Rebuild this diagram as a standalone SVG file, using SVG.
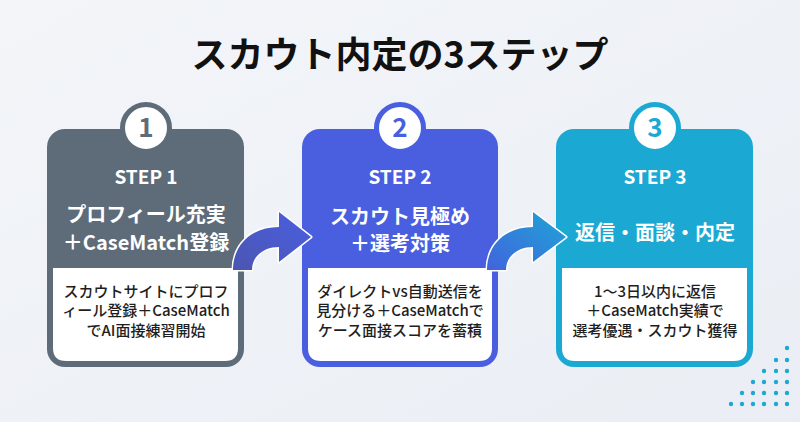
<svg xmlns="http://www.w3.org/2000/svg" width="800" height="422" viewBox="0 0 800 422">
<defs>
<linearGradient id="bg" x1="0" y1="0" x2="1" y2="1"><stop offset="0" stop-color="#f3f5f9"/><stop offset="1" stop-color="#eaeef4"/></linearGradient>
<linearGradient id="ga1" x1="0" y1="1" x2="1" y2="0"><stop offset="0" stop-color="#4b55b0"/><stop offset="1" stop-color="#4a5fe2"/></linearGradient>
<linearGradient id="ga2" x1="0" y1="1" x2="1" y2="0"><stop offset="0" stop-color="#4163dd"/><stop offset="1" stop-color="#1ea6d6"/></linearGradient>
<style>
text{font-family:"Noto Sans CJK JP","Noto Sans",sans-serif;text-anchor:middle}
.title{font-size:36px;font-weight:700;fill:#111}
.step{font-size:19px;font-weight:700;fill:#fff}
.head{font-size:20px;font-weight:700;fill:#fff}
.desc{font-size:15px;font-weight:500;fill:#1e1e1e}
.num{font-size:26px;font-weight:700}
.inner{fill:#fff}
.arrow{stroke:#fff;stroke-width:3;stroke-linejoin:round;paint-order:stroke}
.dot{fill:#1ba9d3}
</style>
</defs>
<rect width="800" height="422" fill="url(#bg)"/>
<text class="title" x="400" y="68">スカウト内定の3ステップ</text>

<g id="step1">
<rect x="47" y="129" width="197" height="238" rx="18" fill="#5e6b78"/>
<path class="inner" d="M53 268 H238 V348 Q238 361 225 361 H66 Q53 361 53 348 Z"/>
<circle cx="146" cy="128" r="23.5" fill="#fff" stroke="#5e6b78" stroke-width="5"/>
<text class="num" x="146" y="137" fill="#5e6b78">1</text>
<text class="step" x="146" y="184">STEP 1</text>
<text class="head" x="146" y="222">プロフィール充実</text>
<text class="head" x="146" y="250">＋CaseMatch登録</text>
<text class="desc" x="146" y="297">スカウトサイトにプロフ</text>
<text class="desc" x="146" y="316">ィール登録＋CaseMatch</text>
<text class="desc" x="146" y="336">でAI面接練習開始</text>
</g>

<g id="step2">
<rect x="302" y="129" width="196" height="238" rx="18" fill="#4a5ee0"/>
<path class="inner" d="M308 268 H492 V348 Q492 361 479 361 H321 Q308 361 308 348 Z"/>
<circle cx="400" cy="128" r="23.5" fill="#fff" stroke="#4a5ee0" stroke-width="5"/>
<text class="num" x="400" y="137" fill="#4a5ee0">2</text>
<text class="step" x="400" y="184">STEP 2</text>
<text class="head" x="400" y="224">スカウト見極め</text>
<text class="head" x="400" y="251">＋選考対策</text>
<text class="desc" x="400" y="297">ダイレクトvs自動送信を</text>
<text class="desc" x="400" y="316">見分ける＋CaseMatchで</text>
<text class="desc" x="400" y="336">ケース面接スコアを蓄積</text>
</g>

<g id="step3">
<rect x="556" y="129" width="197" height="238" rx="18" fill="#1ba9d3"/>
<path class="inner" d="M562 268 H747 V348 Q747 361 734 361 H575 Q562 361 562 348 Z"/>
<circle cx="655" cy="128" r="23.5" fill="#fff" stroke="#1ba9d3" stroke-width="5"/>
<text class="num" x="655" y="137" fill="#1ba9d3">3</text>
<text class="step" x="655" y="184">STEP 3</text>
<text class="head" x="655" y="240">返信・面談・内定</text>
<text class="desc" x="655" y="297">1〜3日以内に返信</text>
<text class="desc" x="655" y="316">＋CaseMatch実績で</text>
<text class="desc" x="655" y="336">選考優遇・スカウト獲得</text>
</g>

<g id="connectors">
<path class="arrow" fill="url(#ga1)" d="M233 270 C233 245 251 227 279 227 V212 L311 237 L279 262 V247 C264 247 252 256 252 270 Z"/>
<path class="arrow" fill="url(#ga2)" d="M487 270 C487 245 505 227 533 227 V212 L566 237 L533 262 V247 C518 247 506 256 506 270 Z"/>
</g>

<g id="dots">
<circle class="dot" cx="787" cy="348" r="2.2"/>
<circle class="dot" cx="776" cy="360" r="2.2"/><circle class="dot" cx="787" cy="360" r="2.2"/>
<circle class="dot" cx="764" cy="371" r="2.2"/><circle class="dot" cx="776" cy="371" r="2.2"/><circle class="dot" cx="787" cy="371" r="2.2"/>
<circle class="dot" cx="753" cy="382" r="2.2"/><circle class="dot" cx="764" cy="382" r="2.2"/><circle class="dot" cx="776" cy="382" r="2.2"/><circle class="dot" cx="787" cy="382" r="2.2"/>
<circle class="dot" cx="742" cy="393" r="2.2"/><circle class="dot" cx="753" cy="393" r="2.2"/><circle class="dot" cx="764" cy="393" r="2.2"/><circle class="dot" cx="776" cy="393" r="2.2"/><circle class="dot" cx="787" cy="393" r="2.2"/>
<circle class="dot" cx="731" cy="404" r="2.2"/><circle class="dot" cx="742" cy="404" r="2.2"/><circle class="dot" cx="753" cy="404" r="2.2"/><circle class="dot" cx="764" cy="404" r="2.2"/><circle class="dot" cx="776" cy="404" r="2.2"/><circle class="dot" cx="787" cy="404" r="2.2"/>
</g>
</svg>
